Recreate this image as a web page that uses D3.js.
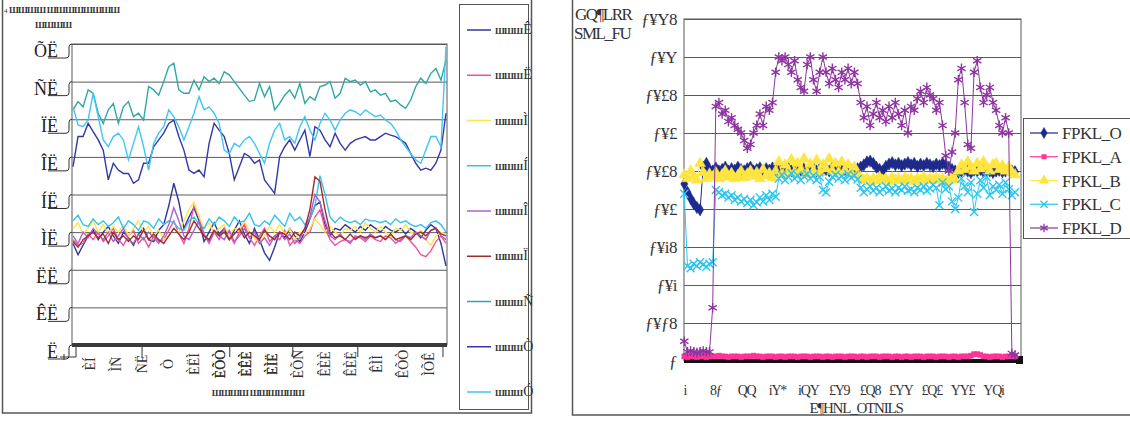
<!DOCTYPE html>
<html lang="en">
<head>
<meta charset="utf-8">
<title>chart</title>
<script src="https://cdn.jsdelivr.net/npm/d3@7/dist/d3.min.js"></script>
<style>
  body { margin: 0; background: #fff; }
  svg { display: block; font-family: "Liberation Serif", "DejaVu Serif", serif; }
</style>
</head>
<body>
<svg id="chart" width="1130" height="428"></svg>
<script>
// ---------- left chart data ----------
const leftYTicks = [0, 10, 20, 30, 40, 50, 60, 70, 80];
const leftYLabels = ["Ë", "ÊË", "ËË", "ÌË", "ÍË", "ÎË", "ÏË", "ÑË", "ÕË"];
const leftXLabels = ["ÈÍ", "ÌÑ", "ÑË", "Ò", "ÈËÌ", "ÈÕÒ", "ÈÊÈ", "ÈÌË", "ÈÕÒ",
  "ÈÊÈ", "ÈÌË", "ÈÕÑ", "ÊÈÈ", "ÊÈË", "ÊÌÌ", "ÊÕÒ", "ÌÕÊ"];
const leftGroupEdges = [0.6, 13.7, 31.1, 43.6, 56.5, 73.4];
const leftNames = ["Ê", "Ë", "Ì", "Í", "Î", "Ï", "Ñ", "Ò", "Ó"];
const leftColors = ["#34369a", "#f0509e", "#ffe44a", "#35c3ee", "#b060c8", "#a02c2c", "#2fa7a4", "#3438a6", "#3fc6f2"];

const lNavy = [27,24,26.5,29,30.5,28,30,31.5,29,27,30,28.5,26.5,29.5,31,
  28,27.5,30.5,32,37,43,38,31,34,36.5,33,27.5,30,32.5,29.5,
  31,28,30.5,33,29.5,27,31,28,24.5,22.5,26,30,28.5,31,29,
  27.5,30,33.5,37,38,32,29,31,30.5,32,31,30,31.5,30.5,32,
  31,30,31.5,30.5,30,31,29.5,31,30,28.5,30.5,32,31,27,21];
const lPink = [28,26.5,27,29.5,28,30,27.5,29,31,28,26.5,29,30.5,27,28.5,
  26,29,27.5,28,30.5,33,29.5,27,31,37,34,29.5,27,30,28,
  31,29.5,27,30,32,28.5,26.5,29,31,27.5,29,28,30.5,26.5,28,
  27,29,30,34,36,31,28,26.5,27.5,28,27,29,28.5,27.5,29,
  28,27.5,29,28.5,27,28,29,27.5,26,24,23.5,25,27.5,29,27];
const lYellow = [31,32.5,29.5,31,33,30,32,29.5,31.5,30,32,29,31,33,30,
  31.5,29,30.5,28,29,31,30,33,36,38,34,31,32.5,29.5,31,
  32,29,31,30.5,33,30,28.5,27,29,31.5,30,32,29.5,31,28,
  30,29.5,31,33.5,32,30,31.5,30,29,31,30.5,31.5,30,32.5,31,
  30,31.5,30,29,31,30.5,32,30,29.5,30.5,28,26.5,29,30,29.5];
const lCyan = [33,34.5,32,31.5,33.5,32,33,31.5,32.5,34,31,33,32,30.5,33,
  32.5,31,33.5,32,33,32.5,31,30.5,33,34,32,31,33.5,32,34,
  33,31.5,34,32.5,33,35,32,31.5,33,32,34.5,33,31.5,35,33,
  34,32,33.5,37,45,40,34,32.5,34,33,32.5,33,32,33.5,33,
  33,32.5,33,32,33.5,32.5,33,32,31.5,32,31,32.5,33,32,30];
const lLavender = [29,27,30,28.5,31,29.5,28,30,27.5,29,31,28,27,29.5,28,
  30,28.5,27,29,32,36.5,33,29,28,30.5,33,29,27.5,30,29,
  28,30.5,27.5,29,31,28.5,30,27,28.5,26.5,29,30,28,29.5,27,
  28.5,31,34,40,38,33,29,28,29.5,28,27.5,28.5,29,28,29.5,
  28.5,29,28,29.5,28,27.5,29,28.5,30,29,28,30.5,31,29,28];
const lBrown = [27.5,26,28,29,30,28.5,29.5,27,30,28,29,27.5,29,28,30.5,
  28,29.5,28,27,29,31,29.5,28,30,33,31,29,28,30.5,29,
  30,28,29.5,31,28.5,30,29,28,30.5,29,28,30,29.5,28,30,
  29,31,36,44.7,43.5,36,30,28.5,29,28,29.5,28,29,28.5,29,
  28.5,29,28,29.5,28,28.5,29,28,29.5,30,29,30.5,31,29.5,29];
const lTeal = [62.5,64.7,63.3,67.8,66.9,61.6,58.9,62.5,64.2,58.9,63.3,64.7,60.7,61.6,59.8,
  68.7,67.8,66.4,70,74,74.9,67.8,66.9,66.9,70.4,67.8,71.3,70,70.9,69.5,
  72.6,71.8,70,68.2,66.4,64.7,65.1,69.5,66,68.7,62.5,64.2,66.4,67.8,65.6,
  69.5,64.2,66,65.1,68.7,69.1,70,65.6,66.9,70.9,70,70.4,69.1,70,67.3,
  67.8,66.4,66.9,64.7,65.1,63.8,62.9,65.1,68.7,70.9,69.5,72.2,73.5,70.4,75.7];
const lBlue = [47.4,55.4,55.4,58.9,56.7,54.5,51.8,43.9,48.3,46.5,45.6,45.6,43,43.9,48.3,
  48.3,52.7,54.5,56.3,58.9,59.8,55.4,51.8,46.5,45.6,46.5,44.7,53.6,58.9,57.1,
  55.4,50.9,43.9,47.4,50.9,50.1,48.3,49.2,43.9,42.1,40.3,50.1,52.7,54.5,51.8,
  54.5,57.1,50.1,58,57.1,54.5,52.7,56.3,53.6,51.8,53.6,54.5,55,55.4,54.5,
  54.5,55.4,56.3,55.8,55.4,54.5,53.6,50.9,48.3,46.5,47,46.5,48.3,51.8,61.6];
const lSky = [63.3,58.5,58,59.8,66.9,60.7,54.5,52.7,55.4,56.3,54.5,49.2,53.6,58,52.7,
  46.5,53.6,56.3,58,62.5,60.7,58,54.5,58,61.6,66,62.5,63.3,61.6,58.9,
  51.8,50.9,53.6,52.7,54.5,55.4,53.6,50.9,48.3,53.6,57.1,58.9,54.5,55.4,53.6,
  58,60.7,57.1,54.5,58.9,61.6,59.8,57.1,59.8,61.6,62.5,62,61.1,62.5,61.6,
  60.7,61.1,59.8,58.9,57.1,54.5,52.7,50.9,49.2,48.3,51.8,55.4,55.4,52.7,79.3];
const leftSeries = [lNavy, lPink, lYellow, lCyan, lLavender, lBrown, lTeal, lBlue, lSky];

// ---------- right chart data ----------
const rightYTicks = [0, 0.05, 0.1, 0.15, 0.2, 0.25, 0.3, 0.35, 0.4, 0.45];
const rightYLabels = ["ƒ", "ƒ¥ƒ8", "ƒ¥i", "ƒ¥i8", "ƒ¥£", "ƒ¥£8", "ƒ¥£", "ƒ¥£8", "ƒ¥Y", "ƒ¥Y8"];
const rightXTicks = [1, 50, 99, 148, 197, 246, 295, 344, 393, 442, 491];
const rightXLabels = ["i", "8ƒ", "QQ", "iY*", "iQY", "£Y9", "£Q8", "£YY", "£Q£", "YY£", "YQi"];
const rightIndex = d3.range(1, 531, 5); // sampled observation numbers
const rightNames = ["FPKL_O", "FPKL_A", "FPKL_B", "FPKL_C", "FPKL_D"];
const rightColors = ["#1c2a8c", "#ff3399", "#ffe53f", "#2cc6f0", "#8e34a0"];

const rO = [0.233,0.222,0.214,0.207,0.202,0.199,0.255,0.26,0.252,0.25,
  0.254,0.25,0.252,0.255,0.25,0.253,0.251,0.255,0.252,0.25,
  0.253,0.255,0.25,0.252,0.254,0.25,0.253,0.251,0.254,0.252,
  0.25,0.253,0.251,0.254,0.25,0.252,0.255,0.251,0.253,0.25,
  0.252,0.254,0.25,0.253,0.251,0.252,0.25,0.254,0.251,0.253,
  0.25,0.252,0.254,0.251,0.25,0.253,0.255,0.258,0.262,0.263,
  0.26,0.255,0.252,0.25,0.256,0.259,0.261,0.258,0.26,0.257,
  0.259,0.261,0.258,0.26,0.256,0.259,0.257,0.26,0.258,0.256,
  0.259,0.257,0.26,0.258,0.255,0.252,0.25,0.248,0.25,0.252,
  0.25,0.248,0.251,0.25,0.252,0.249,0.251,0.25,0.248,0.25,
  0.251,0.249,0.25,0.252,0.25,0.249];
const rA = [0.006,0.005,0.006,0.006,0.005,0.006,0.006,0.005,0.006,0.006,
  0.006,0.007,0.006,0.006,0.005,0.006,0.006,0.006,0.005,0.006,
  0.006,0.006,0.007,0.006,0.006,0.005,0.006,0.006,0.006,0.005,
  0.006,0.006,0.005,0.006,0.006,0.006,0.005,0.006,0.006,0.006,
  0.005,0.006,0.006,0.006,0.005,0.006,0.006,0.005,0.006,0.006,
  0.006,0.005,0.006,0.006,0.006,0.005,0.006,0.006,0.005,0.006,
  0.006,0.006,0.005,0.006,0.006,0.006,0.005,0.006,0.006,0.005,
  0.006,0.006,0.005,0.006,0.006,0.006,0.005,0.006,0.006,0.006,
  0.005,0.006,0.006,0.006,0.005,0.006,0.006,0.005,0.006,0.006,
  0.006,0.007,0.009,0.009,0.008,0.006,0.006,0.005,0.006,0.006,
  0.006,0.005,0.006,0.006,0.007,0.006];
const rB = [0.245,0.24,0.25,0.243,0.238,0.26,0.248,0.24,0.246,0.242,
  0.248,0.24,0.245,0.25,0.242,0.247,0.24,0.244,0.25,0.241,
  0.246,0.25,0.243,0.248,0.24,0.252,0.244,0.247,0.241,0.25,
  0.262,0.245,0.258,0.25,0.265,0.248,0.26,0.252,0.266,0.247,
  0.259,0.25,0.264,0.248,0.258,0.253,0.266,0.25,0.26,0.248,
  0.262,0.251,0.258,0.247,0.255,0.245,0.242,0.238,0.24,0.236,
  0.24,0.237,0.242,0.238,0.24,0.236,0.241,0.238,0.24,0.237,
  0.241,0.238,0.24,0.236,0.24,0.238,0.242,0.237,0.24,0.238,
  0.241,0.238,0.24,0.236,0.24,0.242,0.238,0.25,0.258,0.252,
  0.262,0.255,0.25,0.26,0.253,0.262,0.255,0.25,0.258,0.26,
  0.252,0.257,0.25,0.255,0.248,0.245];
const rC = [0.22,0.125,0.122,0.128,0.125,0.13,0.127,0.124,0.128,0.13,
  0.225,0.222,0.218,0.22,0.215,0.218,0.212,0.215,0.21,0.213,
  0.208,0.212,0.205,0.209,0.215,0.21,0.218,0.212,0.22,0.216,
  0.24,0.245,0.238,0.242,0.247,0.24,0.244,0.238,0.243,0.246,
  0.24,0.244,0.238,0.242,0.225,0.222,0.236,0.242,0.245,0.24,
  0.243,0.238,0.246,0.241,0.244,0.239,0.228,0.222,0.226,0.23,
  0.224,0.228,0.222,0.226,0.23,0.224,0.227,0.222,0.228,0.225,
  0.23,0.224,0.226,0.222,0.228,0.225,0.23,0.224,0.227,0.232,
  0.228,0.205,0.235,0.226,0.23,0.21,0.2,0.215,0.24,0.23,
  0.222,0.235,0.196,0.22,0.238,0.228,0.242,0.218,0.23,0.225,
  0.232,0.22,0.235,0.226,0.218,0.222];
const rD = [0.026,0.012,0.013,0.012,0.011,0.012,0.013,0.012,0.012,0.07,
  0.335,0.34,0.325,0.33,0.315,0.32,0.31,0.305,0.3,0.29,
  0.28,0.285,0.3,0.31,0.325,0.31,0.335,0.33,0.34,0.38,
  0.4,0.395,0.4,0.39,0.38,0.395,0.37,0.36,0.355,0.39,
  0.4,0.37,0.355,0.38,0.4,0.38,0.365,0.385,0.37,0.36,
  0.38,0.37,0.385,0.365,0.38,0.365,0.34,0.32,0.335,0.31,
  0.325,0.34,0.32,0.33,0.315,0.335,0.32,0.34,0.325,0.31,
  0.33,0.3,0.335,0.33,0.345,0.355,0.34,0.36,0.35,0.345,
  0.33,0.34,0.31,0.27,0.25,0.275,0.3,0.37,0.385,0.34,
  0.285,0.28,0.38,0.395,0.36,0.34,0.35,0.36,0.34,0.33,
  0.31,0.3,0.32,0.3,0.01,0.008];
const rightSeries = [rO, rA, rB, rC, rD];

// ---------- drawing ----------
const svg = d3.select("#chart");
const GRID = "#5a5a5a";

// outer frames
svg.append("rect").attr("x", 2.5).attr("y", -4).attr("width", 529).attr("height", 417)
  .attr("fill", "none").attr("stroke", "#555").attr("stroke-width", 1.5);
svg.append("rect").attr("x", 572.5).attr("y", -4).attr("width", 562).attr("height", 419)
  .attr("fill", "none").attr("stroke", "#555").attr("stroke-width", 1.5);

// ===== left chart =====
const L = { left: 72, right: 447, top: 44, bottom: 345 };
const xL = d3.scaleLinear().domain([0, lNavy.length - 1]).range([L.left + 1, L.right - 1]);
const yL = d3.scaleLinear().domain([0, 80]).range([L.bottom, L.top]);
const xLab = d3.scalePoint().domain(leftXLabels).range([L.left, L.right]).padding(0.7);

const gl = svg.append("g");
gl.append("g")
  .attr("transform", `translate(${L.left},0)`)
  .call(d3.axisLeft(yL).tickValues(leftYTicks).tickSize(-(L.right - L.left)).tickFormat(""))
  .call(g => g.select(".domain").remove())
  .call(g => g.selectAll("line").attr("stroke", GRID));
gl.append("rect").attr("x", L.left).attr("y", L.top).attr("width", L.right - L.left)
  .attr("height", L.bottom - L.top).attr("fill", "none").attr("stroke", GRID);

// bracket-style y ticks + labels
leftYTicks.forEach((v, i) => {
  const y = yL(v);
  gl.append("path")
    .attr("d", `M${L.left},${y} Q69,${y} 69,${y + 3} L69,${y + 11} Q69,${y + 14} 66,${y + 14} L48,${y + 14}`)
    .attr("fill", "none").attr("stroke", "#333").attr("stroke-width", 1);
  gl.append("text").attr("x", 58).attr("y", y + 13).attr("text-anchor", "end")
    .attr("font-size", 18).attr("fill", "#222").text(leftYLabels[i]);
});

// series lines
const lineL = d3.line().x((d, i) => xL(i)).y(d => yL(d));
leftSeries.forEach((s, i) => {
  gl.append("path").datum(s).attr("d", lineL).attr("fill", "none")
    .attr("stroke", leftColors[i]).attr("stroke-width", 1.4);
});

// dense category axis band + group ticks
gl.append("rect").attr("x", L.left).attr("y", L.bottom - 2).attr("width", L.right - L.left)
  .attr("height", 4).attr("fill", "#3a3a3a");
leftGroupEdges.forEach(k => {
  gl.append("line").attr("x1", xL(k)).attr("x2", xL(k)).attr("y1", L.bottom + 2).attr("y2", L.bottom + 12)
    .attr("stroke", "#333");
});
gl.append("path").attr("d", `M60,357 L${xL(leftGroupEdges[0])},357 M64,354 L64,360`)
  .attr("stroke", "#333").attr("fill", "none");

leftXLabels.forEach(t => {
  gl.append("text")
    .attr("transform", `translate(${xLab(t)},364) rotate(-90)`)
    .attr("text-anchor", "middle").attr("dy", "0.35em")
    .attr("font-size", 14).attr("fill", "#333").text(t);
});
gl.append("text").attr("x", 258).attr("y", 396).attr("text-anchor", "middle")
  .attr("font-size", 9).attr("font-weight", "bold").attr("letter-spacing", -0.8)
  .attr("fill", "#333").text("ШШШШ ШШШШШШ");

// title
gl.append("text").attr("x", 4).attr("y", 13).attr("font-size", 9).attr("fill", "#333")
  .html('<tspan font-size="7">4</tspan><tspan font-weight="bold" letter-spacing="-0.8"> ШШШШ ШШШШШШШШ</tspan>');
gl.append("text").attr("x", 35).attr("y", 28).attr("font-size", 9).attr("font-weight", "bold")
  .attr("letter-spacing", -0.8).attr("fill", "#333").text("ШШШШ");

// legend
gl.append("rect").attr("x", 459.5).attr("y", 4.5).attr("width", 69).attr("height", 405)
  .attr("fill", "#fff").attr("stroke", "#555");
const legY = d3.scalePoint().domain(leftNames).range([30, 392]);
leftNames.forEach((n, i) => {
  const y = legY(n);
  gl.append("line").attr("x1", 467).attr("x2", 491).attr("y1", y).attr("y2", y)
    .attr("stroke", leftColors[i]).attr("stroke-width", 1.5);
  gl.append("text").attr("x", 495).attr("y", y + 4).attr("fill", "#333")
    .html(`<tspan font-size="9" font-weight="bold" letter-spacing="-0.8">ШШШ</tspan><tspan font-size="14" dx="1">${n}</tspan>`);
});

// ===== right chart =====
const R = { left: 684, right: 1021, top: 19, bottom: 361 };
const xR = d3.scaleLinear().domain([0.5, 535.5]).range([R.left, R.right]);
const yR = d3.scaleLinear().domain([0, 0.45]).range([R.bottom, R.top]);
const gr = svg.append("g");

gr.append("g")
  .attr("transform", `translate(${R.left},0)`)
  .call(d3.axisLeft(yR).tickValues(rightYTicks).tickSize(-(R.right - R.left)).tickFormat(""))
  .call(g => g.select(".domain").remove())
  .call(g => g.selectAll("line").attr("stroke", GRID));
gr.append("rect").attr("x", R.left).attr("y", R.top).attr("width", R.right - R.left)
  .attr("height", R.bottom - R.top).attr("fill", "none").attr("stroke", GRID);

rightYTicks.forEach((v, i) => {
  gr.append("text").attr("x", 677).attr("y", yR(v)).attr("dy", "0.35em")
    .attr("text-anchor", "end").attr("font-size", 17).attr("letter-spacing", -0.5)
    .attr("fill", "#333").text(rightYLabels[i]);
});

gr.append("rect").attr("x", R.left).attr("y", R.bottom - 2).attr("width", R.right - R.left)
  .attr("height", 4).attr("fill", "#111");
gr.append("rect").attr("x", R.right - 5).attr("y", R.bottom - 5).attr("width", 7)
  .attr("height", 8).attr("fill", "#111");

gr.append("g")
  .attr("transform", `translate(0,${R.bottom})`)
  .call(d3.axisBottom(xR).tickValues(rightXTicks).tickSize(0).tickFormat((d, i) => rightXLabels[i]))
  .call(g => g.select(".domain").remove())
  .call(g => g.selectAll("text").attr("y", 24).attr("font-size", 14).attr("letter-spacing", -1.2)
    .attr("font-family", "Liberation Serif, serif").attr("fill", "#333"));

const symTimes = d3.symbolTimes || d3.symbolX || d3.symbolCross;
const symAst = d3.symbolAsterisk || d3.symbolCross;
const markers = [
  { type: d3.symbolDiamond, size: 44, fill: true },
  { type: d3.symbolSquare, size: 26, fill: true },
  { type: d3.symbolTriangle, size: 52, fill: true },
  { type: symTimes, size: 44, fill: false },
  { type: symAst, size: 64, fill: false }
];

const lineR = d3.line().x((d, i) => xR(rightIndex[i])).y(d => yR(d));
rightSeries.forEach((s, si) => {
  const c = rightColors[si];
  const m = markers[si];
  const g = gr.append("g");
  g.append("path").datum(s).attr("d", lineR).attr("fill", "none")
    .attr("stroke", c).attr("stroke-width", 1);
  const sym = d3.symbol().type(m.type).size(m.size);
  g.selectAll("path.m").data(s).join("path").attr("class", "m")
    .attr("transform", (d, i) => `translate(${xR(rightIndex[i])},${yR(d)})`)
    .attr("d", sym)
    .attr("fill", m.fill ? c : "none")
    .attr("stroke", c).attr("stroke-width", m.fill ? 0.5 : 1.4);
});

// titles
gr.append("text").attr("x", 575).attr("y", 20).attr("font-size", 17).attr("letter-spacing", -1.5)
  .attr("fill", "#333").text("GQ¶LRR");
gr.append("text").attr("x", 574).attr("y", 39).attr("font-size", 17).attr("letter-spacing", -1.5)
  .attr("fill", "#333").text("SML_FU");
gr.append("text").attr("x", 856).attr("y", 413).attr("text-anchor", "middle").attr("font-size", 15)
  .attr("letter-spacing", -1.2).attr("fill", "#333").text("E¶HNL_OTNILS");

// legend
gr.append("rect").attr("x", 1023.5).attr("y", 118.5).attr("width", 112).attr("height", 120)
  .attr("fill", "#fff").attr("stroke", "#555");
const legRY = d3.scalePoint().domain(rightNames).range([133, 228]);
rightNames.forEach((n, i) => {
  const y = legRY(n);
  const m = markers[i];
  gr.append("line").attr("x1", 1030).attr("x2", 1058).attr("y1", y).attr("y2", y)
    .attr("stroke", rightColors[i]).attr("stroke-width", 1.2);
  gr.append("path").attr("transform", `translate(1044,${y})`)
    .attr("d", d3.symbol().type(m.type).size(m.size * 0.8))
    .attr("fill", m.fill ? rightColors[i] : "none").attr("stroke", rightColors[i])
    .attr("stroke-width", m.fill ? 0.5 : 1.3);
  gr.append("text").attr("x", 1062).attr("y", y + 6).attr("font-size", 17)
    .attr("letter-spacing", -0.5).attr("fill", "#333").text(n);
});
</script>
</body>
</html>
